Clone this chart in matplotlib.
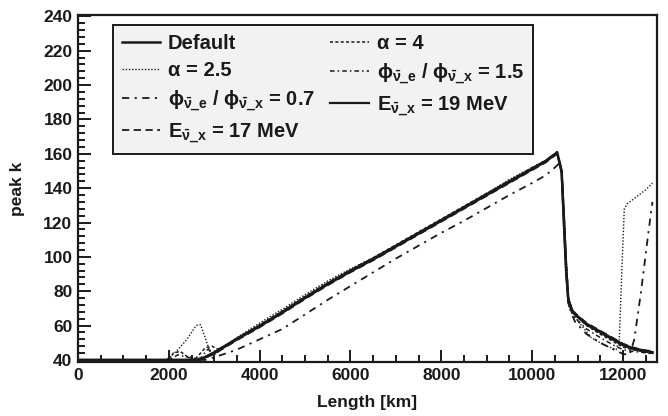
import matplotlib
matplotlib.use("Agg")
import matplotlib.pyplot as plt
from matplotlib.ticker import MultipleLocator

plt.rcParams['font.family'] = ['Liberation Sans', 'DejaVu Sans']
plt.rcParams['font.weight'] = 'bold'
plt.rcParams['mathtext.fontset'] = 'custom'
plt.rcParams['mathtext.rm'] = 'Liberation Sans:bold'
plt.rcParams['mathtext.it'] = 'Liberation Sans:bold'
plt.rcParams['mathtext.bf'] = 'Liberation Sans:bold'

# ---------------- data ----------------
x_default = [0, 500, 1000, 1500, 2000, 2200, 2400, 2600, 2700, 2800, 3000, 3500, 4000, 4500,
             5000, 5500, 6000, 6500, 7000, 7500, 8000, 8500, 9000, 9500, 10000, 10300,
             10450, 10550, 10650, 10700, 10750, 10800, 10900, 11000, 11200, 11500, 11800,
             12000, 12200, 12400, 12650]
y_default = [40, 40, 40, 40, 40, 40, 40, 40, 40.5, 41.5, 44, 52, 59.5, 67.5,
             76, 84, 91.5, 98.5, 106, 113.5, 121, 128.5, 136, 143.5, 151, 155.5,
             158.5, 161, 150, 122, 93, 74, 68, 65.5, 61, 56.5, 52,
             49, 47, 45.8, 44.5]

y_e19 = [40, 40, 40, 40, 40, 40, 40, 40, 40.5, 41.8, 44.5, 52.5, 60, 68,
         76.5, 84.5, 92, 99, 106.5, 114, 121.5, 129, 136.5, 144, 151.5, 156,
         159, 160.5, 149, 118, 90, 73, 67.5, 65, 60.5, 56, 51.5,
         48.5, 46.5, 45.5, 44]

y_e17 = [40, 40, 40, 40, 40, 40, 40, 40, 40.3, 41.2, 43.5, 51.5, 59, 67,
         75.5, 83.5, 91, 98, 105.5, 113, 120.5, 128, 135.5, 143, 150.5, 155,
         158, 160, 151, 125, 96, 75, 68.5, 66, 61.5, 57, 52.5,
         49.5, 47.5, 46, 45]

x_alpha4 = [0, 2000, 2100, 2250, 2400, 2600, 2800, 2950, 3100, 3500, 4000, 4500, 5000,
            5500, 6000, 6500, 7000, 7500, 8000, 8500, 9000, 9500, 10000, 10300, 10450,
            10550, 10650, 10700, 10750, 10800, 10900, 11000, 11200, 11500, 11800, 12000,
            12200, 12400, 12650]
y_alpha4 = [40, 40, 44, 45, 42, 41, 47, 48, 46, 52.5, 60.5, 68.5, 77, 85, 92.5, 99.5,
            107, 114.5, 122, 129.5, 137, 144.5, 152, 156, 159, 160, 150, 124, 95, 75,
            68, 65, 60, 55, 50.5, 47.5, 46, 45, 44]

x_alpha25 = [0, 1900, 2000, 2200, 2400, 2600, 2700, 2800, 2900, 3000, 3500, 4000, 4500,
             5000, 5500, 6000, 6500, 7000, 7500, 8000, 8500, 9000, 9500, 10000, 10300,
             10450, 10550, 10650, 10700, 10750, 10800, 10900, 11000, 11300, 11600, 11850,
             11920, 11980, 12030, 12100, 12300, 12500, 12650]
y_alpha25 = [40, 40, 41, 46, 52, 60, 60.5, 53, 45, 43, 53, 61.5, 69.5,
             78, 86, 93, 99.5, 106.5, 114, 121.5, 129, 137, 145, 152, 156,
             158.5, 160, 151, 128, 100, 77, 68, 63, 53, 48.5, 46,
             52, 95, 128, 131, 135, 139, 143]

x_phi15 = [0, 2000, 2200, 2500, 2700, 2850, 3000, 3500, 4000, 4500, 5000, 5500, 6000,
           6500, 7000, 7500, 8000, 8500, 9000, 9500, 10000, 10300, 10450, 10550, 10650,
           10700, 10750, 10800, 10900, 11000, 11200, 11500, 11800, 12000, 12200, 12400,
           12650]
y_phi15 = [40, 40, 43, 41, 41, 46, 45, 52, 60, 68, 76.5, 84.5, 92, 99, 106.5, 114,
           121.5, 129, 136.5, 144, 151.5, 156, 159, 160.5, 150, 122, 93, 72, 66, 63,
           58, 53, 48.5, 46, 45, 44.5, 43.5]

x_phi07 = [0, 2800, 3000, 3500, 4000, 4500, 5000, 5500, 6000, 6500, 7000, 7500, 8000,
           8500, 9000, 9500, 10000, 10300, 10500, 10600, 10650, 10700, 10750, 10800,
           10850, 10950, 11200, 11500, 11800, 12000, 12150, 12250, 12400, 12550, 12650]
y_phi07 = [40, 40, 41.5, 46, 52, 58, 66.5, 75, 83, 91, 99, 106.5, 114,
           121, 128.5, 136, 143, 147.5, 152, 154.5, 150, 125, 95, 75,
           68, 62, 55, 50, 46, 43.5, 43, 52, 80, 112, 132]

labels = ['Default', 'α = 2.5',
          r'$\phi_{\bar{\nu}\_e}$ / $\phi_{\bar{\nu}\_x}$ = 0.7',
          r'E$_{\bar{\nu}\_x}$ = 17 MeV',
          'α = 4',
          r'$\phi_{\bar{\nu}\_e}$ / $\phi_{\bar{\nu}\_x}$ = 1.5',
          r'E$_{\bar{\nu}\_x}$ = 19 MeV']

# ---------------- figure ----------------
fig = plt.figure(figsize=(6.68, 4.16), dpi=100)
ax = fig.add_axes([78/668, 1-362/416, 579/668, 347/416])

k = '#1a1a1a'
h_def, = ax.plot(x_default, y_default, color=k, lw=1.8, ls='-')
h_a25, = ax.plot(x_alpha25, y_alpha25, color=k, lw=1.0, ls=(0, (1, 1.3)))
h_p07, = ax.plot(x_phi07, y_phi07, color=k, lw=1.3, ls=(0, (4, 3, 1.2, 3)))
h_e17, = ax.plot(x_default, y_e17, color=k, lw=1.3, ls=(0, (4, 2.5)))
h_a4, = ax.plot(x_alpha4, y_alpha4, color=k, lw=1.1, ls=(0, (2, 1.5)))
h_p15, = ax.plot(x_phi15, y_phi15, color=k, lw=1.1, ls=(0, (3, 2, 1, 2)))
h_e19, = ax.plot(x_default, y_e19, color=k, lw=1.6, ls='-')

ax.set_xlim(0, 12750)
ax.set_ylim(38.8, 240.8)
ax.xaxis.set_major_locator(MultipleLocator(2000))
ax.xaxis.set_minor_locator(MultipleLocator(500))
ax.yaxis.set_major_locator(MultipleLocator(20))
ax.yaxis.set_minor_locator(MultipleLocator(4))
ax.tick_params(which='both', direction='in', top=False, right=False, width=1.4, color=k)
ax.tick_params(which='major', length=9)
ax.tick_params(which='minor', length=5)
ax.tick_params(axis='both', labelsize=12.5, pad=4, labelcolor=k)
for lab in ax.get_xticklabels() + ax.get_yticklabels():
    lab.set_fontweight('bold')
for s in ax.spines.values():
    s.set_linewidth(1.6)
    s.set_color(k)

ax.set_xlabel('Length [km]', fontsize=12.5, fontweight='bold', color=k)
ax.set_ylabel('peak k', fontsize=12.5, fontweight='bold', color=k)
ax.xaxis.set_label_coords(0.5, -0.095)
ax.yaxis.set_label_coords(-0.092, 0.5)

handles = [h_def, h_a25, h_p07, h_e17, h_a4, h_p15, h_e19]
leg = ax.legend(handles, labels, ncol=2, loc='upper left',
                bbox_to_anchor=(0.06, 0.971, 0.726, 0.0), mode='expand',
                fontsize=14.5, frameon=True, fancybox=False, handlelength=1.9,
                handletextpad=0.4, columnspacing=0.6, labelspacing=0.4,
                borderpad=0.45, borderaxespad=0.0)
fr = leg.get_frame()
fr.set_facecolor('#f2f2f2')
fr.set_edgecolor(k)
fr.set_linewidth(1.4)
fr.set_alpha(1)
for t in leg.get_texts():
    t.set_fontweight('bold')
    t.set_color(k)

fig.savefig('out.png', dpi=100)
